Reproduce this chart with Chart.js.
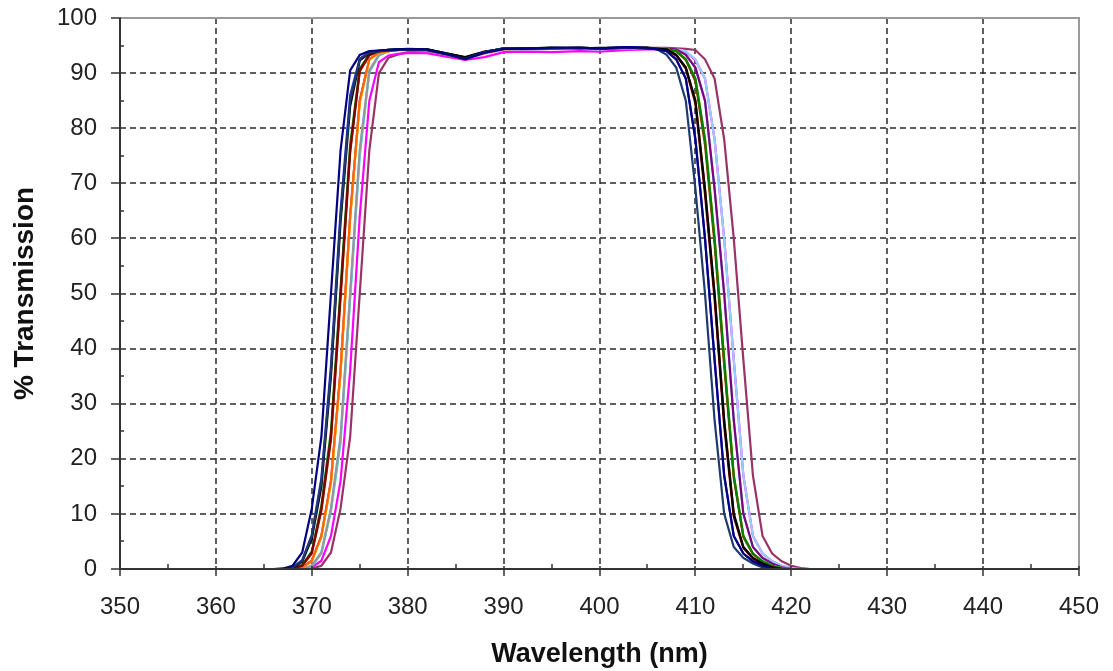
<!DOCTYPE html>
<html>
<head>
<meta charset="utf-8">
<script src="https://cdn.jsdelivr.net/npm/chart.js@4.4.1/dist/chart.umd.min.js"></script>
<style>
  html, body { margin: 0; padding: 0; background: #fff; }
</style>
</head>
<body>
<canvas id="chart" width="1113" height="671"></canvas>
<script>
// wavelength grid (nm), shared by all scans
const wavelengths = [364,365,366,367,368,369,370,371,372,373,374,375,376,377,378,379,380,
                     382,384,386,388,390,392,395,398,400,403,405,
                     406,407,408,409,410,411,412,413,414,415,416,417,418,419,420,421,422];

// % transmission, one list per scan (rising edge | plateau | falling edge)
const scanNavy    = [0,0,0,0.1,0.6,3,11,24,50,76,90.5,93.3,94,94.1,94.2,94.3,94.4,
                     94.3,93.5,92.5,93.7,94.4,94.4,94.6,94.6,94.5,94.7,94.6,
                     94.3,94,92.5,89,78,60,38,17,6,2.8,1.4,0.6,0.15,0,0,0,0];
const scanDkBlue  = [0,0,0,0,0.3,1.5,6,16,36,64,85,92.5,93.7,94,94.1,94.2,94.3,
                     94.2,93.4,92.6,93.8,94.5,94.4,94.5,94.6,94.5,94.6,94.6,
                     94.3,93.3,91,85,69,50,27,10,4,2,1,0.3,0,0,0,0,0];
const scanBlack   = [0,0,0,0,0.2,1.3,5.5,15,35,63,84,92.3,93.6,94,94.2,94.3,94.3,
                     94.3,93.6,92.9,93.9,94.4,94.5,94.6,94.5,94.6,94.6,94.5,
                     94.4,94.3,93.3,91,85,69,50,27,10,4,2,1,0.3,0,0,0,0];
const scanDkRed   = [0,0,0,0,0.1,0.6,3,11,24,50,76,90.5,93.3,94,94.1,94.2,94.3,
                     94.2,93.5,92.7,93.7,94.4,94.4,94.5,94.6,94.4,94.6,94.5,
                     94.4,94.2,93.2,90.8,84.5,68,49,26,9.5,3.8,1.9,0.9,0.3,0,0,0,0];
const scanBlue    = [0,0,0,0,0.3,1.6,6.2,16.5,37,65,86,92.6,93.8,94.1,94.2,94.2,94.3,
                     94.2,93.5,92.8,93.8,94.5,94.4,94.6,94.6,94.5,94.7,94.6,
                     94.3,94,92.5,89,78,60,38,17,6,2.8,1.4,0.6,0.15,0,0,0,0];
const scanGreen   = [0,0,0,0,0.1,0.7,3.2,11.5,25,51,77,90.8,93.4,94,94.2,94.3,94.3,
                     94.3,93.6,92.8,93.8,94.5,94.5,94.6,94.6,94.5,94.6,94.6,
                     94.5,94.3,94,92.5,89,78,60,38,17,6,2.8,1.4,0.6,0.15,0,0,0];
const scanOrange  = [0,0,0,0,0,0.3,1.5,6,16,36,64,85,92.5,93.7,94,94.2,94.3,
                     94.2,93.4,92.6,93.6,94.3,94.4,94.5,94.5,94.4,94.6,94.5,
                     94.4,94.3,93.3,91,85,69,50,27,10,4,2,1,0.3,0,0,0,0];
const scanBrown   = [0,0,0,0,0.1,0.6,2.8,10.5,23.5,49,75.5,90.3,93.2,94,94.1,94.2,94.3,
                     94.2,93.5,92.7,93.7,94.4,94.4,94.5,94.6,94.5,94.6,94.6,
                     94.5,94.3,94,92.4,88.5,77,59,37,16.5,5.8,2.7,1.3,0.5,0.1,0,0,0];
const scanYellow  = [0,0,0,0,0,0.3,1.4,5.8,15.5,35.5,63.5,84.5,92.4,93.6,94,94.2,94.3,
                     94.3,93.6,92.8,93.8,94.4,94.5,94.6,94.5,94.5,94.6,94.6,
                     94.5,94.3,94,92.5,89,78,60,38,17,6,2.8,1.4,0.6,0.15,0,0,0];
const scanGray    = [0,0,0,0,0,0.1,0.6,3,11,24,50,76,90.5,93.3,94,94.2,94.3,
                     94.2,93.5,92.8,93.7,94.4,94.4,94.5,94.5,94.4,94.5,94.5,
                     94.4,94.3,94,92.5,89,78,60,38,17,6,2.8,1.4,0.6,0.15,0,0,0];
const scanViolet  = [0,0,0,0,0,0.3,1.5,6,16,36,64,85,92.5,93.7,94,94.2,94.3,
                     94.3,93.6,92.8,93.8,94.5,94.5,94.6,94.6,94.5,94.7,94.6,
                     94.5,94.4,94.3,93.3,91,85,69,50,27,10,4,2,1,0.3,0,0,0];
const scanLtBlue  = [0,0,0,0,0,0.1,0.6,3,11,24,50,76,90.5,93.3,94,94.1,94.2,
                     94.1,93.4,92.6,93.5,94.2,94.3,94.4,94.4,94.3,94.5,94.5,
                     94.5,94.4,94.3,94,92.5,89,78,60,38,17,6,2.8,1.4,0.6,0.15,0,0];
const scanTeal    = [0,0,0,0,0,0.1,0.5,2.8,10.5,23,49,75,90.2,93.2,94,94.2,94.3,
                     94.3,93.5,92.7,93.7,94.4,94.5,94.5,94.6,94.5,94.6,94.5,
                     94.5,94.4,94.3,93.3,91,85,69,50,27,10,4,2,1,0.3,0,0,0];
const scanMagenta = [0,0,0,0,0,0,0.3,1.5,6,16,36,64,85,92,93.2,93.5,93.6,
                     93.6,93.0,92.4,92.9,93.8,93.9,93.8,94.0,93.9,94.2,94.3,
                     94.3,94.3,94.2,93.9,92.4,89,78,60,38,17,6,2.8,1.4,0.6,0.15,0,0];
const scanPlum    = [0,0,0,0,0,0,0.1,0.6,3,11,24,50,76,90,92.8,93.4,93.8,
                     94.0,93.4,92.7,93.6,94.3,94.3,94.4,94.5,94.4,94.6,94.6,
                     94.6,94.6,94.5,94.4,94.2,92.5,89,78,60,38,17,6,2.8,1.4,0.6,0.15,0];

const xTicks = [350,360,370,380,390,400,410,420,430,440,450];
const yTicks = [0,10,20,30,40,50,60,70,80,90,100];

const scans = [
  ['Scan 1',  scanNavy,    '#000080'],
  ['Scan 2',  scanDkBlue,  '#1f3a6e'],
  ['Scan 3',  scanBlack,   '#000000'],
  ['Scan 4',  scanDkRed,   '#800000'],
  ['Scan 5',  scanBlue,    '#3333cc'],
  ['Scan 6',  scanGreen,   '#008000'],
  ['Scan 7',  scanOrange,  '#ff6600'],
  ['Scan 8',  scanBrown,   '#993300'],
  ['Scan 9',  scanYellow,  '#ffcc00'],
  ['Scan 10', scanGray,    '#969696'],
  ['Scan 11', scanViolet,  '#800080'],
  ['Scan 12', scanLtBlue,  '#99ccff'],
  ['Scan 13', scanTeal,    '#33cccc'],
  ['Scan 14', scanMagenta, '#ff00ff'],
  ['Scan 15', scanPlum,    '#993366']
];

const FONT = '"Liberation Sans", Arial, sans-serif';

// dashed grid, grey frame, axis lines with Excel-style tick marks
const frame = {
  id: 'frame',
  beforeDatasetsDraw(chart) {
    const {ctx, chartArea: a, scales: {x, y}} = chart;
    ctx.save();
    ctx.strokeStyle = '#2a2a2a';
    ctx.lineWidth = 1.5;
    ctx.setLineDash([6, 4]);
    xTicks.slice(1, -1).forEach(v => {
      const px = Math.round(x.getPixelForValue(v));
      ctx.beginPath(); ctx.moveTo(px, a.top); ctx.lineTo(px, a.bottom); ctx.stroke();
    });
    yTicks.slice(1, -1).forEach(v => {
      const py = Math.round(y.getPixelForValue(v));
      ctx.beginPath(); ctx.moveTo(a.left, py); ctx.lineTo(a.right, py); ctx.stroke();
    });
    ctx.setLineDash([]);
    ctx.strokeStyle = '#999';
    ctx.lineWidth = 2;
    ctx.beginPath();
    ctx.moveTo(a.left, a.top); ctx.lineTo(a.right, a.top); ctx.lineTo(a.right, a.bottom);
    ctx.stroke();
    ctx.restore();
  },
  afterDatasetsDraw(chart) {
    const {ctx, chartArea: a, scales: {x, y}} = chart;
    ctx.save();
    ctx.strokeStyle = '#333';
    ctx.lineWidth = 2;
    ctx.beginPath();
    ctx.moveTo(a.left, a.top); ctx.lineTo(a.left, a.bottom); ctx.lineTo(a.right, a.bottom);
    ctx.stroke();
    ctx.lineWidth = 1.5;
    ctx.beginPath();
    yTicks.forEach(v => {
      const py = Math.round(y.getPixelForValue(v));
      ctx.moveTo(a.left - 9, py); ctx.lineTo(a.left + 1, py);
      if (v < 100) {
        const pm = Math.round(y.getPixelForValue(v + 5));
        ctx.moveTo(a.left, pm); ctx.lineTo(a.left + 4, pm);
      }
    });
    xTicks.forEach(v => {
      const px = Math.round(x.getPixelForValue(v));
      ctx.moveTo(px, a.bottom - 3); ctx.lineTo(px, a.bottom + 7);
      if (v < 450) {
        const pm = Math.round(x.getPixelForValue(v + 5));
        ctx.moveTo(pm, a.bottom - 5); ctx.lineTo(pm, a.bottom);
      }
    });
    ctx.stroke();
    ctx.restore();
  }
};

new Chart(document.getElementById('chart'), {
  type: 'line',
  data: {
    datasets: scans.map(([label, vals, color]) => ({
      label,
      data: vals.map((v, i) => ({x: wavelengths[i], y: v})),
      borderColor: color,
      backgroundColor: color,
      borderWidth: 2.2,
      pointRadius: 0,
      tension: 0,
      fill: false
    }))
  },
  options: {
    responsive: false,
    animation: false,
    layout: {padding: {top: 18, right: 34, left: 0, bottom: 0}},
    plugins: {legend: {display: false}, tooltip: {enabled: false}},
    scales: {
      x: {
        type: 'linear',
        min: 350, max: 450,
        afterBuildTicks: s => { s.ticks = xTicks.map(v => ({value: v})); },
        afterFit: s => { s.height = 102; s.paddingLeft = 0; s.paddingRight = 0; },
        grid: {display: false, drawTicks: false},
        border: {display: false},
        ticks: {autoSkip: false, maxRotation: 0, padding: 24, color: '#222',
                font: {family: FONT, size: 24}},
        title: {display: true, text: 'Wavelength (nm)', color: '#111',
                font: {family: FONT, size: 27, weight: 'bold'}, padding: {top: 0, bottom: 0}}
      },
      y: {
        min: 0, max: 100,
        afterBuildTicks: s => { s.ticks = yTicks.map(v => ({value: v})); },
        afterFit: s => { s.width = 120; s.paddingTop = 0; s.paddingBottom = 0; },
        grid: {display: false, drawTicks: false},
        border: {display: false},
        ticks: {autoSkip: false, padding: 23, color: '#222',
                font: {family: FONT, size: 24}},
        title: {display: true, text: '% Transmission', color: '#111',
                font: {family: FONT, size: 28, weight: 'bold'}, padding: {top: 8, bottom: 0}}
      }
    }
  },
  plugins: [frame]
});
</script>
</body>
</html>
